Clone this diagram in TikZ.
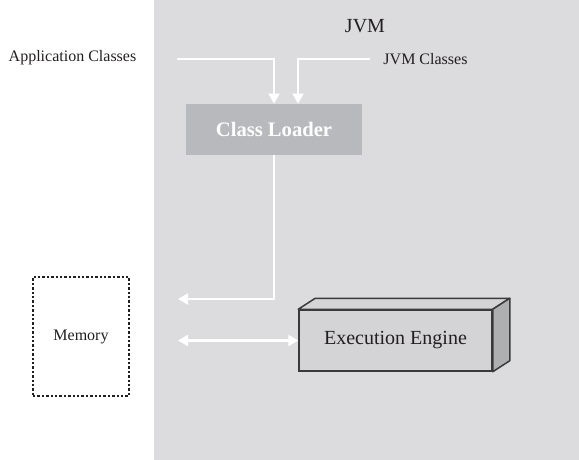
\documentclass[tikz,border=0pt]{standalone}
\usepackage{fontspec}
\setmainfont{Liberation Serif}
\usetikzlibrary{arrows.meta,calc}
\definecolor{panel}{HTML}{DCDCDE}
\definecolor{loader}{HTML}{B8B9BC}
\definecolor{engfront}{HTML}{D4D4D6}
\definecolor{engside}{HTML}{AEAFB1}
\definecolor{edge}{HTML}{3A3A3A}
\definecolor{ink}{HTML}{231F20}
\begin{document}
\begin{tikzpicture}[x=0.5pt,y=-0.5pt,
  tip/.tip={Triangle[length=5pt,width=5.5pt]},
  flow/.style={draw=white, line width=1.1pt, -tip},
  label/.style={inner sep=0pt, text=ink, font=\fontsize{8}{9.6}\selectfont},
  bigtext/.style={inner sep=0pt, text=ink, font=\fontsize{10}{12}\selectfont},
  loaderbox/.style={fill=loader, minimum width=88pt, minimum height=25.5pt, inner sep=0pt,
    text=white, font=\fontsize{10.3}{12}\selectfont\bfseries},
  engbox/.style={fill=engfront, draw=edge, line width=0.75pt, minimum width=96.5pt,
    minimum height=30.5pt, inner sep=0pt, text=ink, font=\fontsize{10}{12}\selectfont},
  membox/.style={draw=ink, line width=0.6pt, dash pattern=on 1.2pt off 1pt,
    minimum width=48pt, minimum height=59.5pt, inner sep=0pt, text=ink,
    font=\fontsize{8}{9.6}\selectfont},
  face/.style={draw=edge, line width=0.75pt, line join=round}]
\useasboundingbox (0,0) rectangle (579,460);
% JVM area
\fill[panel] (154,0) rectangle (579,460);
\node[bigtext] (jvm) at (365,26) {JVM};
% inputs
\node[label] (app) at (72.5,58) {Application Classes};
\node[label] (jvmcls) at (425.5,59) {JVM Classes};
% class loader
\node[loaderbox] (cl) at (274,129.5) {Class Loader};
% memory
\node[membox] (mem) at (81,336.5) {Memory};
% execution engine (3D block)
\node[engbox] (eng) at (395.5,340.5) {\raisebox{-1.5pt}{Execution Engine}};
\filldraw[face, fill=engfront] (eng.north west) -- ($(eng.north west)+(17,-11)$)
  -- ($(eng.north east)+(17,-11)$) -- (eng.north east) -- cycle;
\filldraw[face, fill=engside] (eng.north east) -- ($(eng.north east)+(17,-11)$)
  -- ($(eng.south east)+(17,-11)$) -- (eng.south east) -- cycle;
% connectors
\coordinate (appin) at (177,59);
\coordinate (jvmin) at (370,59);
\coordinate (memin) at (178,299);
\coordinate (memio) at (178,340.5);
\draw[flow] (appin) -| (cl.north);
\draw[flow] (jvmin) -| ([xshift=12pt]cl.north);
\draw[flow] (cl.south) |- (memin);
\draw[flow, tip-tip] (memio) -- (eng.west);
\end{tikzpicture}
\end{document}
